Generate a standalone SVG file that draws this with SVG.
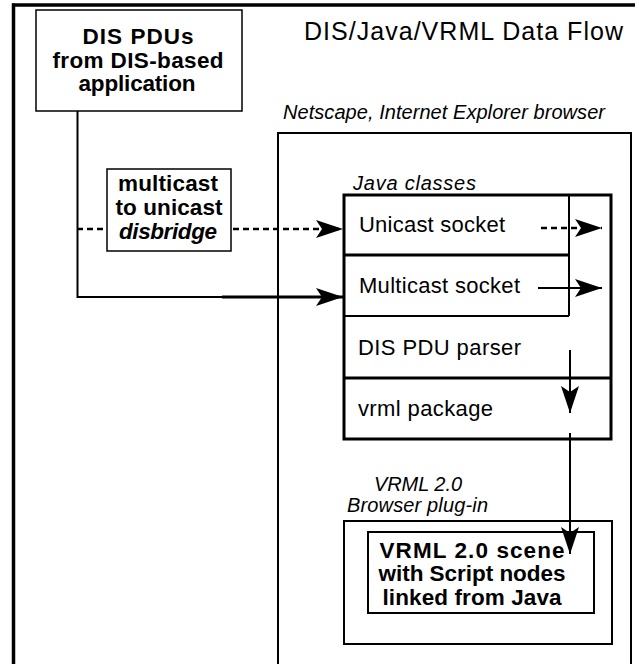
<svg xmlns="http://www.w3.org/2000/svg" width="639" height="664" viewBox="0 0 639 664">
  <style>
    .box { fill: #fff; stroke: #000; }
    .line { fill: none; stroke: #000; }
    .bold { font-family: "Liberation Sans", Arial, sans-serif; font-weight: bold; font-size: 22.5px; fill: #000; text-anchor: middle; }
    .reg { font-family: "Liberation Sans", Arial, sans-serif; font-size: 22px; fill: #000; }
    .ital { font-family: "Liberation Sans", Arial, sans-serif; font-style: italic; font-size: 20px; fill: #000; }
    .title { font-family: "Liberation Sans", Arial, sans-serif; font-size: 25px; fill: #000; }
  </style>
  <defs>
    <marker id="arrow" viewBox="-27 -10 27 20" refX="0" refY="0" markerWidth="27" markerHeight="20" markerUnits="userSpaceOnUse" orient="auto">
      <path d="M0,0 L-27,-9 L-21,0 L-27,9 Z" fill="#000"/>
    </marker>
  </defs>

  <rect width="639" height="664" fill="#fff"/>

  <!-- outer frame (top and left edges) -->
  <g id="frame">
    <line class="line" x1="12" y1="5" x2="635" y2="5" stroke-width="3.5"/>
    <line class="line" x1="13.5" y1="3.5" x2="13.5" y2="664" stroke-width="3.5"/>
  </g>

  <g id="title">
    <text class="title" x="304" y="40" textLength="319" lengthAdjust="spacing">DIS/Java/VRML Data Flow</text>
  </g>

  <g id="dis-source">
    <rect class="box" x="36" y="10" width="206" height="101" stroke-width="1.5"/>
    <text class="bold" x="138" y="44" textLength="111" lengthAdjust="spacing">DIS PDUs</text>
    <text class="bold" x="138" y="68" textLength="171" lengthAdjust="spacing">from DIS-based</text>
    <text class="bold" x="137" y="91" textLength="117" lengthAdjust="spacing">application</text>
  </g>

  <g id="web-browser">
    <text class="ital" x="283" y="119" textLength="322" lengthAdjust="spacing">Netscape, Internet Explorer browser</text>
    <rect class="box" x="278" y="133" width="353" height="540" stroke-width="2"/>
  </g>

  <g id="java-classes">
    <text class="ital" x="353" y="190" textLength="123" lengthAdjust="spacing">Java classes</text>
    <rect class="box" x="344" y="195" width="267" height="244" stroke-width="3"/>
    <!-- socket sub-box -->
    <line class="line" x1="569" y1="195" x2="569" y2="316" stroke-width="2"/>
    <line class="line" x1="344" y1="255" x2="569" y2="255" stroke-width="3"/>
    <line class="line" x1="344" y1="316" x2="569" y2="316" stroke-width="2"/>
    <line class="line" x1="344" y1="378" x2="611" y2="378" stroke-width="3"/>
    <text class="reg" x="359" y="232" textLength="146" lengthAdjust="spacing">Unicast socket</text>
    <text class="reg" x="359" y="293" textLength="161" lengthAdjust="spacing">Multicast socket</text>
    <text class="reg" x="358" y="355" textLength="163" lengthAdjust="spacing">DIS PDU parser</text>
    <text class="reg" x="358" y="416" textLength="135" lengthAdjust="spacing">vrml package</text>
  </g>

  <g id="disbridge">
    <rect class="box" x="107" y="169" width="124" height="82" stroke-width="1.5"/>
    <text class="bold" x="168" y="191" textLength="100" lengthAdjust="spacing">multicast</text>
    <text class="bold" x="169" y="215" textLength="107" lengthAdjust="spacing">to unicast</text>
    <text class="bold" x="168" y="239" textLength="98" lengthAdjust="spacing" font-style="italic">disbridge</text>
  </g>

  <g id="vrml-plugin">
    <text class="ital" x="374" y="491" textLength="88" lengthAdjust="spacing">VRML 2.0</text>
    <text class="ital" x="347" y="512" textLength="141" lengthAdjust="spacing">Browser plug-in</text>
    <rect class="box" x="344" y="521" width="268" height="123" stroke-width="2"/>
  </g>

  <g id="vrml-scene">
    <rect class="box" x="368" y="532" width="226" height="81" stroke-width="2"/>
    <text class="bold" x="472" y="558" textLength="185" lengthAdjust="spacing">VRML 2.0 scene</text>
    <text class="bold" x="472" y="581" textLength="187" lengthAdjust="spacing">with Script nodes</text>
    <text class="bold" x="472" y="605" textLength="179" lengthAdjust="spacing">linked from Java</text>
  </g>

  <g id="connectors">
    <!-- multicast feed from the DIS application -->
    <polyline class="line" points="77.5,111 77.5,297 222,297" stroke-width="2"/>
    <line class="line" x1="222" y1="297" x2="343" y2="297" stroke-width="3" marker-end="url(#arrow)"/>
    <!-- unicast feed through disbridge -->
    <line class="line" x1="77" y1="229" x2="107" y2="229" stroke-width="2.5" stroke-dasharray="6,4"/>
    <line class="line" x1="233" y1="229" x2="343" y2="229" stroke-width="2.5" stroke-dasharray="6,4" marker-end="url(#arrow)"/>
    <!-- socket outputs -->
    <line class="line" x1="541" y1="228" x2="602" y2="228" stroke-width="2.5" stroke-dasharray="6,4" marker-end="url(#arrow)"/>
    <line class="line" x1="538" y1="288" x2="602" y2="288" stroke-width="2" marker-end="url(#arrow)"/>
    <!-- parser to vrml package -->
    <line class="line" x1="570" y1="350" x2="570" y2="413" stroke-width="2" marker-end="url(#arrow)"/>
    <!-- vrml package to scene -->
    <line class="line" x1="570" y1="433" x2="570" y2="554" stroke-width="2" marker-end="url(#arrow)"/>
  </g>
</svg>
